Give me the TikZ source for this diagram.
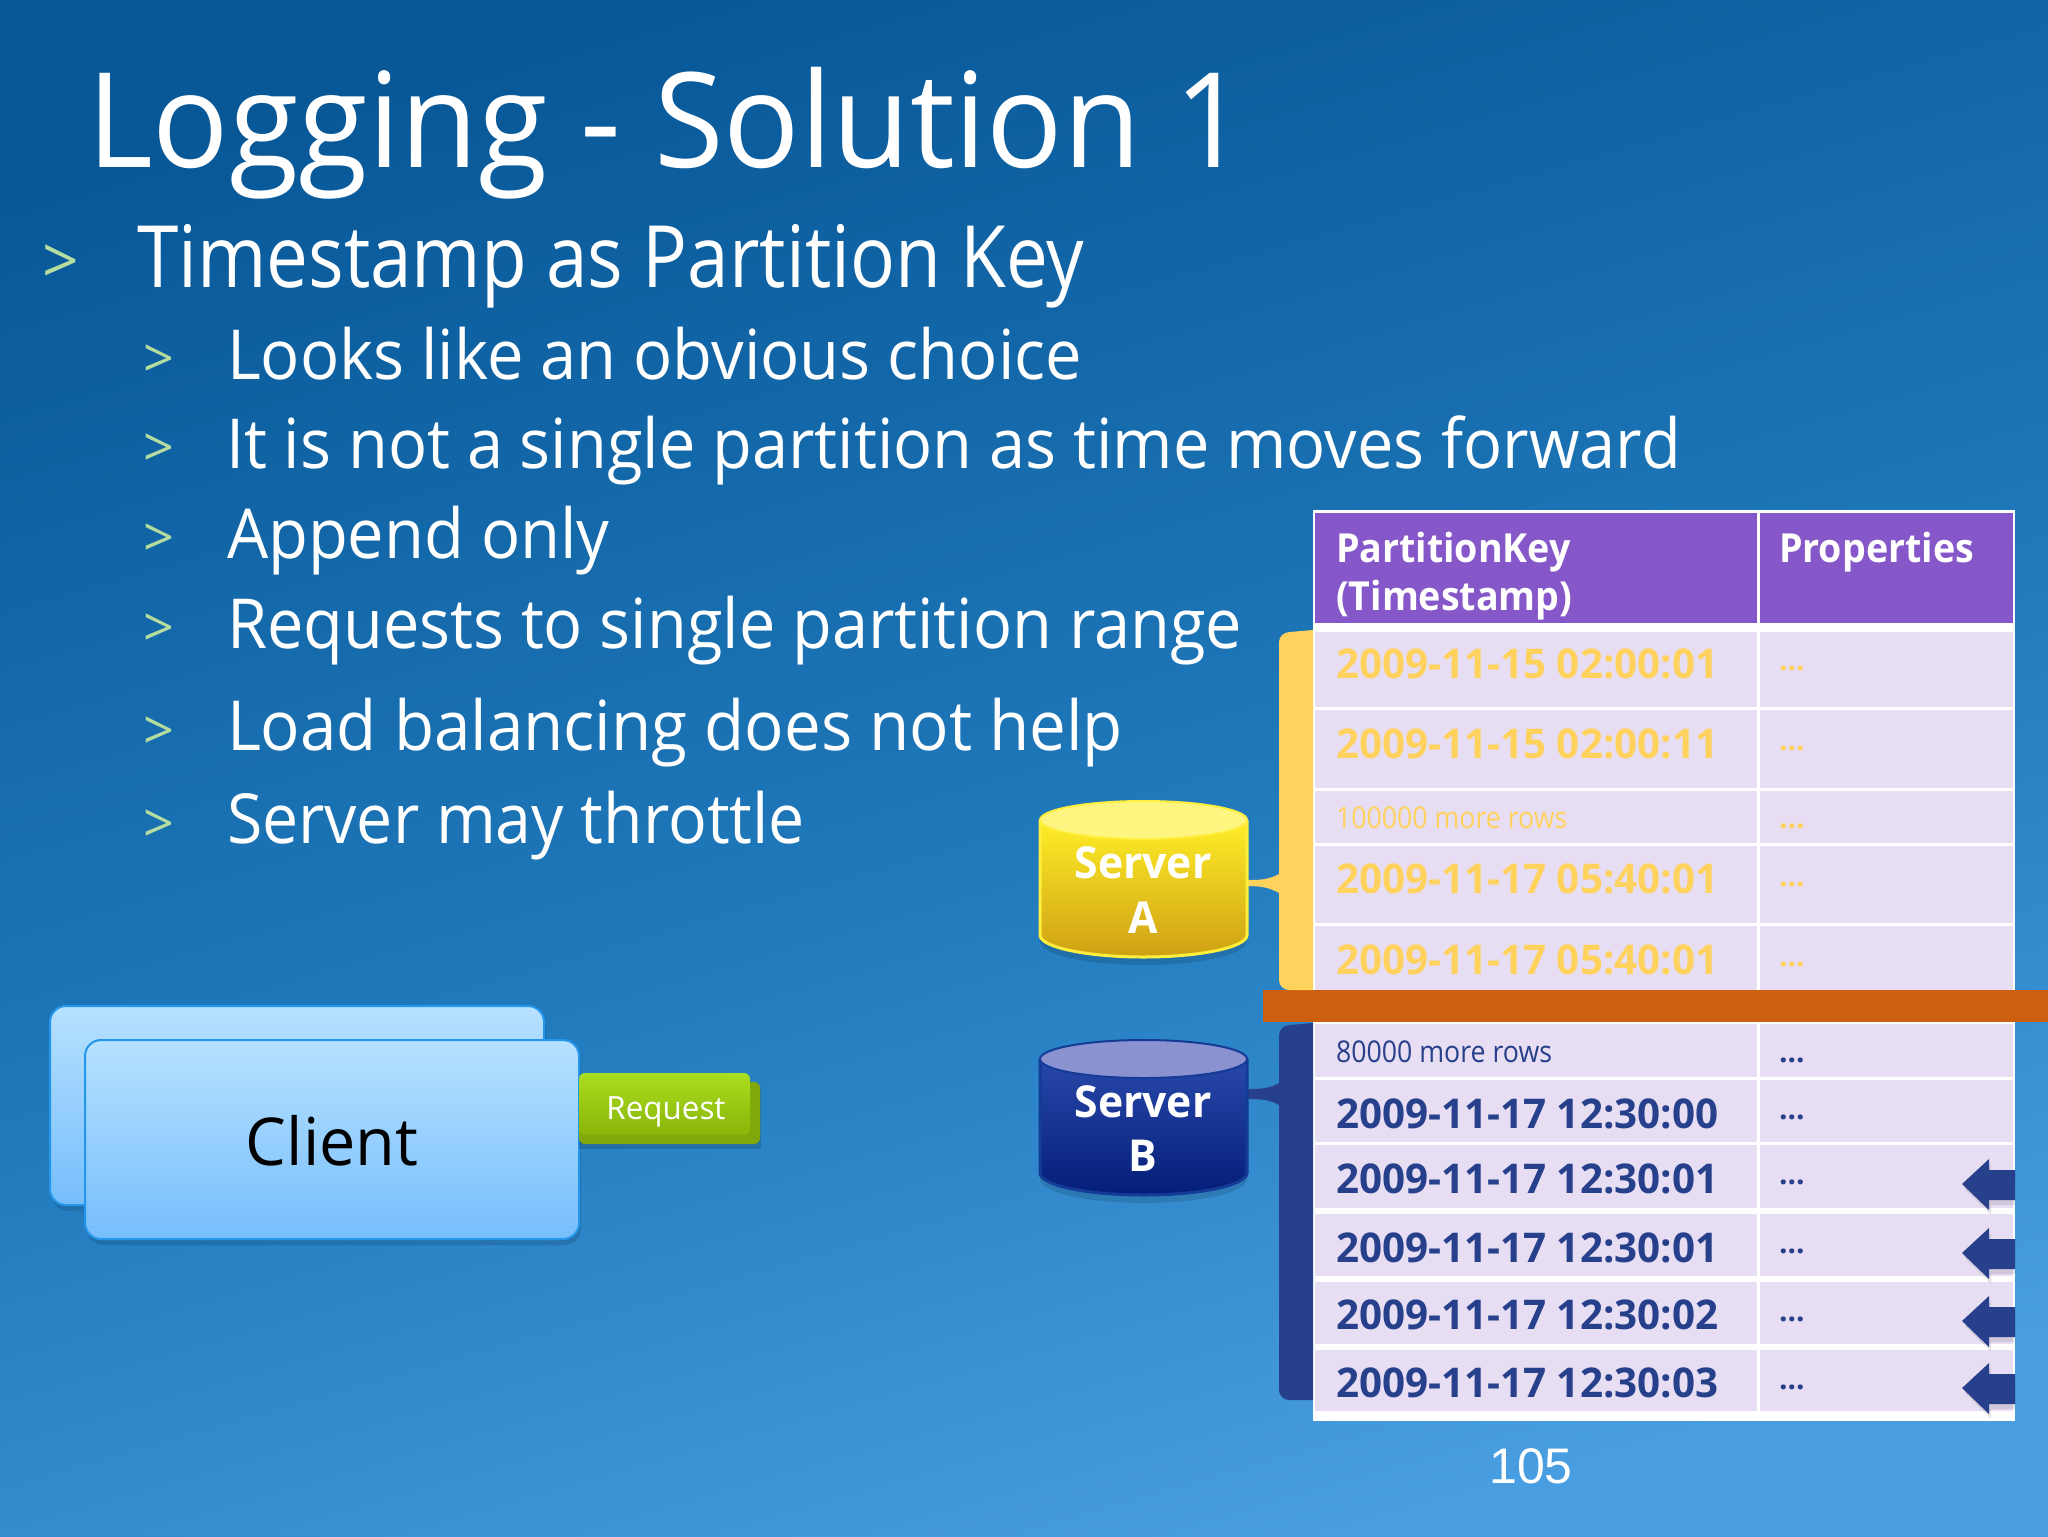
\documentclass[tikz,border=0pt]{standalone}
\usepackage{fontspec}
\setmainfont{Open Sans}
\newfontfamily\arialf{Liberation Sans}
\usetikzlibrary{shapes.geometric}
\definecolor{bullet}{HTML}{B5DDA0}
\definecolor{rowfill}{HTML}{E8DEF3}
\definecolor{headfill}{HTML}{8557C9}
\definecolor{yel}{HTML}{FFD25E}
\definecolor{navy}{HTML}{27408B}
\definecolor{orng}{HTML}{CC6010}
\definecolor{bgA}{RGB}{8,88,152}
\definecolor{bgB}{RGB}{32,122,188}
\definecolor{bgC}{RGB}{72,158,224}
\definecolor{syA}{RGB}{255,238,40}
\definecolor{syB}{RGB}{206,160,20}
\definecolor{syL}{RGB}{255,238,60}
\definecolor{syT}{RGB}{255,246,130}
\definecolor{sbA}{RGB}{40,72,170}
\definecolor{sbB}{RGB}{4,30,120}
\definecolor{sbL}{RGB}{20,60,150}
\definecolor{sbT}{RGB}{138,146,208}
\definecolor{clA}{RGB}{183,225,255}
\definecolor{clB}{RGB}{118,190,252}
\definecolor{clL}{RGB}{36,150,236}
\definecolor{rqA}{RGB}{170,222,30}
\definecolor{rqB}{RGB}{138,180,10}
\definecolor{rqC}{RGB}{128,168,10}
\pgfdeclareverticalshading{bgsh}{100bp}{color(0bp)=(bgC); color(25bp)=(bgC); color(47bp)=(bgB); color(75bp)=(bgA); color(100bp)=(bgA)}
\newcommand{\fs}[2]{\fontsize{#1}{#1}\selectfont\addfontfeature{FakeStretch=#2}}
\tikzset{
 txt/.style={anchor=base west,inner sep=0pt,outer sep=0pt,text=white},
 titletxt/.style={txt,font=\fs{66}{.96}},
 lone/.style={txt,font=\fs{43}{.868}},
 ltwo/.style={txt,font=\fs{34.5}{#1}},
 ltwo/.default=.943,
 mark1/.style={txt,text=bullet,font=\fs{32}{1}},
 mark2/.style={txt,text=bullet,font=\fs{27}{1}},
 stamp/.style={txt,font=\bfseries\fs{20.5}{.985}},
 small/.style={txt,font=\fs{15}{.89}},
 dots/.style={txt,font=\bfseries\fs{15}{1}},
 headt/.style={txt,font=\bfseries\fs{20}{.94}},
 servt/.style={anchor=base,inner sep=0pt,text=white,font=\bfseries\fs{22}{.97}},
 clshade/.style={top color=clA,bottom color=clB,rounded corners=8pt,draw=clL,line width=1pt},
}
\newcommand{\trow}[2]{%
  \fill[rowfill] (1315,#1) rectangle (1757,#2);
  \fill[rowfill] (1760,#1) rectangle (2013,#2);}
\begin{document}
\begin{tikzpicture}[x=0.5pt,y=-0.5pt]
\useasboundingbox (0,0) rectangle (2048,1536);
\begin{scope}
\clip (0,0) rectangle (2048,1536);
\shade[shading=bgsh,shading angle=16] (0,0) rectangle (2048,1536);
\end{scope}

\node[titletxt] (title) at (87,167) {Logging - Solution 1};
\node[mark1] (m0) at (42,283) {>};
\node[lone] (l0) at (137,287) {Timestamp as Partition Key};
\node[mark2] (m1) at (143,377) {>};
\node[ltwo] (l1) at (227,379) {Looks like an obvious choice};
\node[mark2] (m2) at (143,466) {>};
\node[ltwo=.941] (l2) at (226,468) {It is not a single partition as time moves forward};
\node[mark2] (m3) at (143,556) {>};
\node[ltwo] (l3) at (227,558) {Append only};
\node[mark2] (m4) at (143,646) {>};
\node[ltwo=.94] (l4) at (227,648) {Requests to single partition range};
\node[mark2] (m5) at (143,749) {>};
\node[ltwo=.949] (l5) at (227,750) {Load balancing does not help};
\node[mark2] (m6) at (143,842) {>};
\node[ltwo=.933] (l6) at (227,843) {Server may throttle};

% table
\fill[white] (1313,510) rectangle (2015,1421);
\fill[headfill] (1315,513) rectangle (1757,623);
\fill[headfill] (1760,513) rectangle (2013,623);
\trow{632}{707}\trow{710}{788}\trow{791}{843}\trow{846}{923}\trow{926}{992}
\trow{1024}{1077}\trow{1080}{1142}\trow{1145}{1208}\trow{1214}{1276}\trow{1282}{1344}\trow{1350}{1411}
\node[headt] (h1) at (1336,562) {PartitionKey};
\node[headt] (h1b) at (1336,610) {(Timestamp)};
\node[headt] (h2) at (1779,562) {Properties};
\foreach \n/\y/\t/\d in {a/678/2009-11-15 02:00:01/670,b/758/2009-11-15 02:00:11/750,d/893/2009-11-17 05:40:01/886,e/974/2009-11-17 05:40:01/966}{
  \node[stamp,text=yel] (k\n) at (1336,\y) {\t};
  \node[dots,text=yel] (p\n) at (1779,\d) {...};
}
\node[small,text=yel] (kc) at (1336,828) {100000 more rows};
\node[dots,text=yel] (pc) at (1779,828) {...};
\node[small,text=navy] (kf) at (1336,1062) {80000 more rows};
\node[dots,text=navy] (pf) at (1779,1062) {...};
\foreach \n/\y/\t/\d in {g/1128/2009-11-17 12:30:00/1119,h/1193/2009-11-17 12:30:01/1184,i/1262/2009-11-17 12:30:01/1253,j/1329/2009-11-17 12:30:02/1321,l/1397/2009-11-17 12:30:03/1389}{
  \node[stamp,text=navy] (k\n) at (1336,\y) {\t};
  \node[dots,text=navy] (p\n) at (1779,\d) {...};
}
% arrows
\foreach \y in {1184,1253,1321,1388}{
  \fill[black,opacity=.1] (1965,\y+5) -- (1991,\y-20) -- (1991,\y-9) -- (2015,\y-9) -- (2015,\y+21) -- (1991,\y+21) -- (1991,\y+31) -- cycle;
  \fill[navy] (1962,\y) -- (1989,\y-25) -- (1989,\y-14) -- (2015,\y-14) -- (2015,\y+16) -- (1989,\y+16) -- (1989,\y+26) -- cycle;
}
% orange bar
\fill[orng] (1263,990) rectangle (2048,1022);
% brackets
\fill[yel] (1313,630) -- (1290,632) to[out=180,in=90] (1279,642) -- (1279,980) to[out=270,in=180] (1289,990) -- (1313,990) -- cycle;
\fill[navy] (1313,1023) -- (1290,1025) to[out=180,in=90] (1279,1035) -- (1279,1390) to[out=270,in=180] (1289,1400) -- (1313,1400) -- cycle;
\fill[yel] (1245,880) to[out=0,in=210] (1281,873) -- (1281,894) to[out=150,in=0] (1245,886) -- cycle;
\fill[navy] (1245,1089) to[out=0,in=210] (1281,1082) -- (1281,1106) to[out=150,in=0] (1245,1099) -- cycle;

% server A
\fill[black,opacity=.12] (1040,850) -- (1040,941) arc[start angle=180,end angle=0,x radius=103.5,y radius=24] -- (1247,850) -- cycle;
\shade[top color=syA,bottom color=syB] (1040,820) -- (1040,935) arc[start angle=180,end angle=0,x radius=103.5,y radius=22] -- (1247,820) -- cycle;
\draw[line width=1.5pt,syL] (1040,820) -- (1040,935) arc[start angle=180,end angle=0,x radius=103.5,y radius=22] -- (1247,820);
\filldraw[fill=syT,draw=syL,line width=1pt] (1143.5,820) ellipse[x radius=103.5,y radius=19];
\node[servt] (sa1) at (1143,878) {Server};
\node[servt] (sa2) at (1143,933) {A};

% server B
\fill[black,opacity=.12] (1040,1090) -- (1040,1179) arc[start angle=180,end angle=0,x radius=103.5,y radius=24] -- (1247,1090) -- cycle;
\shade[top color=sbA,bottom color=sbB] (1040,1059) -- (1040,1173) arc[start angle=180,end angle=0,x radius=103.5,y radius=22] -- (1247,1059) -- cycle;
\draw[line width=1.5pt,sbL] (1040,1059) -- (1040,1173) arc[start angle=180,end angle=0,x radius=103.5,y radius=22] -- (1247,1059);
\filldraw[fill=sbT,draw=sbL,line width=1pt] (1143.5,1059) ellipse[x radius=103.5,y radius=19];
\node[servt] (sb1) at (1143,1117) {Server};
\node[servt] (sb2) at (1143,1171) {B};

% clients
\fill[black,opacity=.1,rounded corners=8pt] (52,1012) rectangle (546,1211);
\shade[clshade] (50,1006) rectangle (544,1205);
\fill[black,opacity=.12,rounded corners=8pt] (87,1046) rectangle (581,1245);
\shade[clshade] (85,1040) rectangle (579,1239);
\node[anchor=base,inner sep=0pt,text=black,font=\fs{33}{.98}] (client) at (332,1165) {Client};

% request
\fill[black,opacity=.14] (579,1088) rectangle (761,1149);
\fill[rounded corners=3pt,rqC] (579,1082) rectangle (760,1144);
\shade[top color=rqA,bottom color=rqB,rounded corners=3pt] (579,1073) rectangle (750,1135);
\node[anchor=base,inner sep=0pt,text=white,font=\fs{16}{.98}] (req) at (666,1119) {Request};

\node[anchor=base,inner sep=0pt,text=white,font=\arialf\fontsize{25}{25}\selectfont] (num) at (1531,1483) {105};
\end{tikzpicture}
\end{document}
